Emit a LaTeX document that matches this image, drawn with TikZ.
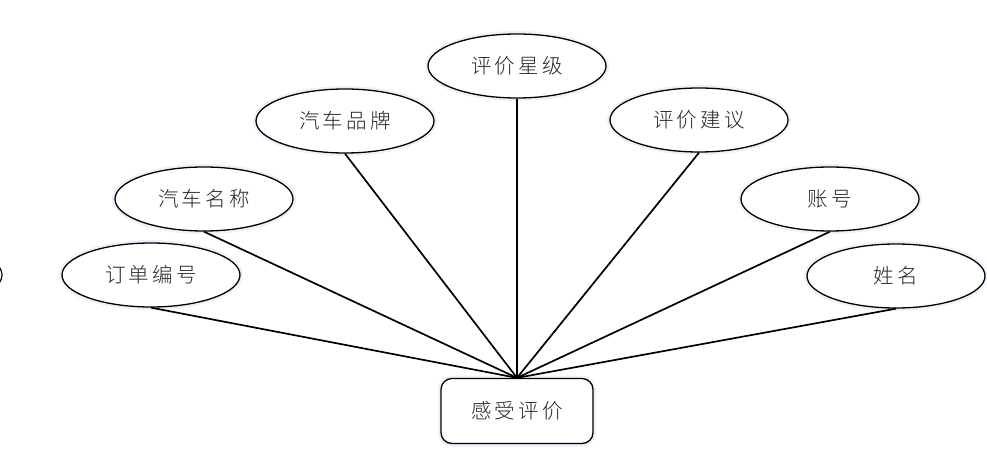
\documentclass[tikz,border=0pt]{standalone}
\usepackage{fontspec}
\usetikzlibrary{shapes.geometric}
\newfontfamily\cjk[LetterSpace=16]{Noto Sans CJK SC Light}
\definecolor{halo}{RGB}{236,242,252}
\begin{document}
\begin{tikzpicture}[x=1pt,y=1pt,
  txt/.style={font=\cjk\fontsize{20.5}{20.5}\selectfont,text=black!85},
  attr/.style={ellipse,draw=black,line width=1.3pt,minimum width=178pt,minimum height=64pt,inner sep=0pt,txt,fill=white,preaction={draw=halo,line width=6pt}},
  ent/.style={rectangle,rounded corners=11pt,draw=black,line width=1.3pt,minimum width=152pt,minimum height=65pt,inner sep=0pt,txt,fill=white,preaction={draw=halo,line width=6pt}},
  link/.style={line width=1.7pt}]
\useasboundingbox (0,0) rectangle (987,453);
\clip (0,0) rectangle (987,453);
\draw[line width=1.2pt] (-87,178) ellipse (89pt and 32pt);
\node[ent] (e) at (517,42) {感受评价};
\node[attr] (a1) at (151,178) {订单编号};
\node[attr] (a2) at (204,254) {汽车名称};
\node[attr] (a3) at (345,332) {汽车品牌};
\node[attr] (a4) at (517,387) {评价星级};
\node[attr] (a5) at (699,333) {评价建议};
\node[attr] (a6) at (830,254) {账号};
\node[attr] (a7) at (896,177) {姓名};
\foreach \n in {a1,a2,a3,a4,a5,a6,a7}{\draw[link] (\n.south) -- (e.north);}
\end{tikzpicture}
\end{document}
